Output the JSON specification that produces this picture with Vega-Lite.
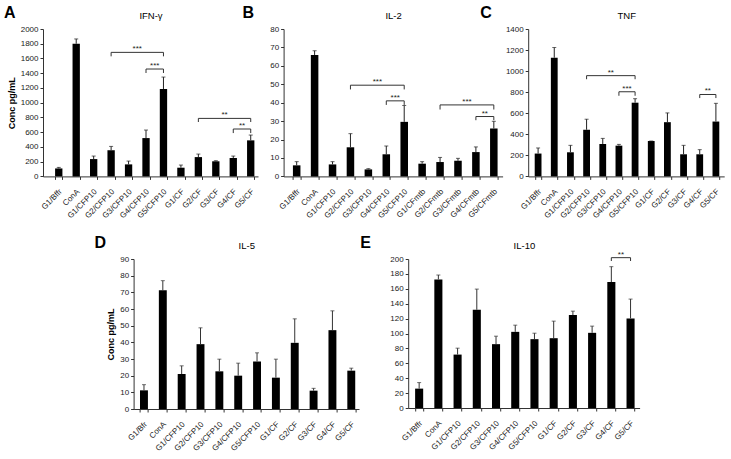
{
  "$schema": "https://vega.github.io/schema/vega-lite/v6.json",
  "padding": {"left": 4, "top": 5, "right": 0, "bottom": 0},
  "datasets": {
    "A": [
      {"group": "G1/Bffr", "conc": 108, "hi": 122},
      {"group": "ConA", "conc": 1800, "hi": 1865},
      {"group": "G1/CFP10", "conc": 235, "hi": 276},
      {"group": "G2/CFP10", "conc": 355, "hi": 407},
      {"group": "G3/CFP10", "conc": 163, "hi": 208},
      {"group": "G4/CFP10", "conc": 520, "hi": 629},
      {"group": "G5/CFP10", "conc": 1186, "hi": 1348},
      {"group": "G1/CF", "conc": 118, "hi": 154},
      {"group": "G2/CF", "conc": 262, "hi": 303},
      {"group": "G3/CF", "conc": 205, "hi": 213},
      {"group": "G4/CF", "conc": 250, "hi": 276},
      {"group": "G5/CF", "conc": 489, "hi": 561}
    ],
    "Asig": [
      {"from": "G2/CFP10", "to": "G5/CFP10", "mid": "G3/CFP10", "y": 1683, "ylow": 1629, "label": "***"},
      {"from": "G4/CFP10", "to": "G5/CFP10", "mid": "G4/CFP10", "y": 1457, "ylow": 1403, "label": "***"},
      {"from": "G2/CF", "to": "G5/CF", "mid": "G3/CF", "y": 787, "ylow": 738, "label": "**"},
      {"from": "G4/CF", "to": "G5/CF", "mid": "G4/CF", "y": 643, "ylow": 588, "label": "**"}
    ],
    "B": [
      {"group": "G1/Bffr", "conc": 6.0, "hi": 8.0},
      {"group": "ConA", "conc": 65.9, "hi": 68.2},
      {"group": "G1/CFP10", "conc": 6.5, "hi": 8.0},
      {"group": "G2/CFP10", "conc": 15.8, "hi": 23.2},
      {"group": "G3/CFP10", "conc": 3.8, "hi": 4.2},
      {"group": "G4/CFP10", "conc": 12.0, "hi": 16.5},
      {"group": "G5/CFP10", "conc": 29.6, "hi": 38.5},
      {"group": "G1/CFmtb", "conc": 6.9, "hi": 8.0},
      {"group": "G2/CFmtb", "conc": 7.8, "hi": 10.3},
      {"group": "G3/CFmtb", "conc": 8.5, "hi": 9.8},
      {"group": "G4/CFmtb", "conc": 13.2, "hi": 16.0},
      {"group": "G5/CFmtb", "conc": 26.0, "hi": 29.9}
    ],
    "Bsig": [
      {"from": "G2/CFP10", "to": "G5/CFP10", "mid": "G3/CFP10", "y": 49.5, "ylow": 47.2, "label": "***"},
      {"from": "G4/CFP10", "to": "G5/CFP10", "mid": "G4/CFP10", "y": 41.0, "ylow": 38.8, "label": "***"},
      {"from": "G2/CFmtb", "to": "G5/CFmtb", "mid": "G3/CFmtb", "y": 38.8, "ylow": 36.3, "label": "***"},
      {"from": "G4/CFmtb", "to": "G5/CFmtb", "mid": "G4/CFmtb", "y": 32.5, "ylow": 30.5, "label": "**"}
    ],
    "C": [
      {"group": "G1/Bffr", "conc": 217, "hi": 270},
      {"group": "ConA", "conc": 1127, "hi": 1224},
      {"group": "G1/CFP10", "conc": 229, "hi": 295},
      {"group": "G2/CFP10", "conc": 443, "hi": 543},
      {"group": "G3/CFP10", "conc": 308, "hi": 361},
      {"group": "G4/CFP10", "conc": 292, "hi": 304},
      {"group": "G5/CFP10", "conc": 700, "hi": 738},
      {"group": "G1/CF", "conc": 336, "hi": 336},
      {"group": "G2/CF", "conc": 515, "hi": 603},
      {"group": "G3/CF", "conc": 210, "hi": 295},
      {"group": "G4/CF", "conc": 210, "hi": 254},
      {"group": "G5/CF", "conc": 521, "hi": 694}
    ],
    "Csig": [
      {"from": "G2/CFP10", "to": "G5/CFP10", "mid": "G3/CFP10", "y": 957, "ylow": 923, "label": "**"},
      {"from": "G4/CFP10", "to": "G5/CFP10", "mid": "G4/CFP10", "y": 804, "ylow": 766, "label": "***"},
      {"from": "G4/CF", "to": "G5/CF", "mid": "G4/CF", "y": 778, "ylow": 744, "label": "**"}
    ],
    "D": [
      {"group": "G1/Bfr", "conc": 11.2, "hi": 14.6},
      {"group": "ConA", "conc": 71.2, "hi": 77.0},
      {"group": "G1/CFP10", "conc": 21.0, "hi": 25.9},
      {"group": "G2/CFP10", "conc": 38.9, "hi": 48.7},
      {"group": "G3/CFP10", "conc": 22.6, "hi": 29.9},
      {"group": "G4/CFP10", "conc": 20.0, "hi": 27.5},
      {"group": "G5/CFP10", "conc": 28.5, "hi": 33.7},
      {"group": "G1/CF", "conc": 18.8, "hi": 29.9},
      {"group": "G2/CF", "conc": 39.7, "hi": 54.1},
      {"group": "G3/CF", "conc": 11.0, "hi": 12.4},
      {"group": "G4/CF", "conc": 47.3, "hi": 58.9},
      {"group": "G5/CF", "conc": 23.0, "hi": 24.5}
    ],
    "E": [
      {"group": "G1/Bffr", "conc": 26.0, "hi": 34.1},
      {"group": "ConA", "conc": 172.6, "hi": 178.5},
      {"group": "G1/CFP10", "conc": 71.7, "hi": 80.3},
      {"group": "G2/CFP10", "conc": 131.8, "hi": 159.6},
      {"group": "G3/CFP10", "conc": 85.7, "hi": 96.4},
      {"group": "G4/CFP10", "conc": 102.2, "hi": 111.2},
      {"group": "G5/CFP10", "conc": 92.4, "hi": 100.4},
      {"group": "G1/CF", "conc": 93.7, "hi": 116.6},
      {"group": "G2/CF", "conc": 124.7, "hi": 130.0},
      {"group": "G3/CF", "conc": 100.9, "hi": 109.9},
      {"group": "G4/CF", "conc": 169.0, "hi": 189.7},
      {"group": "G5/CF", "conc": 120.2, "hi": 146.2}
    ],
    "Esig": [
      {"from": "G4/CF", "to": "G5/CF", "mid": "G4/CF", "y": 201.8, "ylow": 197.3, "label": "**"}
    ]
  },
  "vconcat": [
    {
      "bounds": "flush",
      "spacing": 25.6,
      "hconcat": [
        {
          "width": 215, "height": 147.4,
          "title": {"text": "A", "dx": -39, "dy": 24, "offset": 0, "baseline": "alphabetic"},
          "layer": [
            {"data": {"name": "A"}, "mark": {"type": "bar", "color": "#000"},
             "encoding": {
               "x": {"field": "group", "type": "nominal",
                     "scale": {"domain": ["G1/Bffr","ConA","G1/CFP10","G2/CFP10","G3/CFP10","G4/CFP10","G5/CFP10","G1/CF","G2/CF","G3/CF","G4/CF","G5/CF"], "paddingInner": 0.58, "paddingOuter": 0.45, "align": 0.77},
                     "axis": {"orient": "bottom", "title": null, "labelAngle": -45, "tickBand": "extent", "labelPadding": 8, "labelOffset": -1}},
               "y": {"field": "conc", "type": "quantitative", "title": "Conc pg/mL", "scale": {"domain": [0, 2000], "nice": false}, "axis": {"tickCount": 10, "format": "d"}}}},
            {"data": {"name": "A"}, "mark": {"type": "rule", "color": "#222"},
             "encoding": {
               "x": {"field": "group", "type": "nominal", "axis": {"orient": "top", "title": "IFN-γ", "labels": false, "ticks": false, "domain": false, "titleFontWeight": "normal", "titleFontSize": 9.5, "titlePadding": 9}},
               "y": {"field": "conc", "type": "quantitative", "title": "Conc pg/mL"}, "y2": {"field": "hi"}}},
            {"data": {"name": "A"}, "mark": {"type": "tick", "color": "#222", "size": 4, "thickness": 1, "orient": "horizontal"},
             "encoding": {"x": {"field": "group", "type": "nominal", "axis": null}, "y": {"field": "hi", "type": "quantitative", "title": "Conc pg/mL"}}},
            {"data": {"name": "Asig"}, "mark": {"type": "rule", "color": "#333"},
             "encoding": {"x": {"field": "from", "type": "nominal", "bandPosition": 0.5, "axis": null}, "x2": {"field": "to", "bandPosition": 0.5}, "y": {"field": "y", "type": "quantitative", "title": "Conc pg/mL"}}},
            {"data": {"name": "Asig"}, "mark": {"type": "rule", "color": "#333"},
             "encoding": {"x": {"field": "from", "type": "nominal", "axis": null}, "y": {"field": "y", "type": "quantitative", "title": "Conc pg/mL"}, "y2": {"field": "ylow"}}},
            {"data": {"name": "Asig"}, "mark": {"type": "rule", "color": "#333"},
             "encoding": {"x": {"field": "to", "type": "nominal", "axis": null}, "y": {"field": "y", "type": "quantitative", "title": "Conc pg/mL"}, "y2": {"field": "ylow"}}},
            {"data": {"name": "Asig"}, "mark": {"type": "text", "baseline": "bottom", "dy": 1, "fontSize": 8, "color": "#222"},
             "encoding": {"x": {"field": "mid", "type": "nominal", "bandPosition": 1.6905, "axis": null}, "y": {"field": "y", "type": "quantitative", "title": "Conc pg/mL"}, "text": {"field": "label"}}}
          ],
          "resolve": {"axis": {"x": "independent"}}
        },
        {
          "width": 219, "height": 147.4,
          "title": {"text": "B", "dx": -41, "dy": 24, "offset": 0, "baseline": "alphabetic"},
          "layer": [
            {"data": {"name": "B"}, "mark": {"type": "bar", "color": "#000"},
             "encoding": {
               "x": {"field": "group", "type": "nominal",
                     "scale": {"domain": ["G1/Bffr","ConA","G1/CFP10","G2/CFP10","G3/CFP10","G4/CFP10","G5/CFP10","G1/CFmtb","G2/CFmtb","G3/CFmtb","G4/CFmtb","G5/CFmtb"], "paddingInner": 0.58, "paddingOuter": 0.4, "align": 0.65},
                     "axis": {"orient": "bottom", "title": null, "labelAngle": -45, "tickBand": "extent", "labelPadding": 8, "labelOffset": -1}},
               "y": {"field": "conc", "type": "quantitative", "title": null, "scale": {"domain": [0, 80], "nice": false}, "axis": {"tickCount": 8, "format": "d"}}}},
            {"data": {"name": "B"}, "mark": {"type": "rule", "color": "#222"},
             "encoding": {
               "x": {"field": "group", "type": "nominal", "axis": {"orient": "top", "title": "IL-2", "labels": false, "ticks": false, "domain": false, "titleFontWeight": "normal", "titleFontSize": 9.5, "titlePadding": 9}},
               "y": {"field": "conc", "type": "quantitative", "title": null}, "y2": {"field": "hi"}}},
            {"data": {"name": "B"}, "mark": {"type": "tick", "color": "#222", "size": 4, "thickness": 1, "orient": "horizontal"},
             "encoding": {"x": {"field": "group", "type": "nominal", "axis": null}, "y": {"field": "hi", "type": "quantitative", "title": null}}},
            {"data": {"name": "Bsig"}, "mark": {"type": "rule", "color": "#333"},
             "encoding": {"x": {"field": "from", "type": "nominal", "bandPosition": 0.5, "axis": null}, "x2": {"field": "to", "bandPosition": 0.5}, "y": {"field": "y", "type": "quantitative", "title": null}}},
            {"data": {"name": "Bsig"}, "mark": {"type": "rule", "color": "#333"},
             "encoding": {"x": {"field": "from", "type": "nominal", "axis": null}, "y": {"field": "y", "type": "quantitative", "title": null}, "y2": {"field": "ylow"}}},
            {"data": {"name": "Bsig"}, "mark": {"type": "rule", "color": "#333"},
             "encoding": {"x": {"field": "to", "type": "nominal", "axis": null}, "y": {"field": "y", "type": "quantitative", "title": null}, "y2": {"field": "ylow"}}},
            {"data": {"name": "Bsig"}, "mark": {"type": "text", "baseline": "bottom", "dy": 1, "fontSize": 8, "color": "#222"},
             "encoding": {"x": {"field": "mid", "type": "nominal", "bandPosition": 1.6905, "axis": null}, "y": {"field": "y", "type": "quantitative", "title": null}, "text": {"field": "label"}}}
          ],
          "resolve": {"axis": {"x": "independent"}}
        },
        {
          "width": 196, "height": 147.4,
          "title": {"text": "C", "dx": -48, "dy": 24, "offset": 0, "baseline": "alphabetic"},
          "layer": [
            {"data": {"name": "C"}, "mark": {"type": "bar", "color": "#000"},
             "encoding": {
               "x": {"field": "group", "type": "nominal",
                     "scale": {"domain": ["G1/Bffr","ConA","G1/CFP10","G2/CFP10","G3/CFP10","G4/CFP10","G5/CFP10","G1/CF","G2/CF","G3/CF","G4/CF","G5/CF"], "paddingInner": 0.58, "paddingOuter": 0.353, "align": 0.57},
                     "axis": {"orient": "bottom", "title": null, "labelAngle": -45, "tickBand": "extent", "labelPadding": 8, "labelOffset": -1}},
               "y": {"field": "conc", "type": "quantitative", "title": null, "scale": {"domain": [0, 1400], "nice": false}, "axis": {"tickCount": 7, "format": "d"}}}},
            {"data": {"name": "C"}, "mark": {"type": "rule", "color": "#222"},
             "encoding": {
               "x": {"field": "group", "type": "nominal", "axis": {"orient": "top", "title": "TNF", "labels": false, "ticks": false, "domain": false, "titleFontWeight": "normal", "titleFontSize": 9.5, "titlePadding": 9}},
               "y": {"field": "conc", "type": "quantitative", "title": null}, "y2": {"field": "hi"}}},
            {"data": {"name": "C"}, "mark": {"type": "tick", "color": "#222", "size": 4, "thickness": 1, "orient": "horizontal"},
             "encoding": {"x": {"field": "group", "type": "nominal", "axis": null}, "y": {"field": "hi", "type": "quantitative", "title": null}}},
            {"data": {"name": "Csig"}, "mark": {"type": "rule", "color": "#333"},
             "encoding": {"x": {"field": "from", "type": "nominal", "bandPosition": 0.5, "axis": null}, "x2": {"field": "to", "bandPosition": 0.5}, "y": {"field": "y", "type": "quantitative", "title": null}}},
            {"data": {"name": "Csig"}, "mark": {"type": "rule", "color": "#333"},
             "encoding": {"x": {"field": "from", "type": "nominal", "axis": null}, "y": {"field": "y", "type": "quantitative", "title": null}, "y2": {"field": "ylow"}}},
            {"data": {"name": "Csig"}, "mark": {"type": "rule", "color": "#333"},
             "encoding": {"x": {"field": "to", "type": "nominal", "axis": null}, "y": {"field": "y", "type": "quantitative", "title": null}, "y2": {"field": "ylow"}}},
            {"data": {"name": "Csig"}, "mark": {"type": "text", "baseline": "bottom", "dy": 1, "fontSize": 8, "color": "#222"},
             "encoding": {"x": {"field": "mid", "type": "nominal", "bandPosition": 1.6905, "axis": null}, "y": {"field": "y", "type": "quantitative", "title": null}, "text": {"field": "label"}}}
          ],
          "resolve": {"axis": {"x": "independent"}}
        }
      ]
    },
    {
      "bounds": "flush",
      "spacing": 48.6,
      "hconcat": [
        {"width": 42, "height": 150, "data": {"values": []}, "mark": "point", "encoding": {}},
        {
          "width": 225.4, "height": 150,
          "title": {"text": "D", "dx": -39, "dy": 24, "offset": 0, "baseline": "alphabetic"},
          "layer": [
            {"data": {"name": "D"}, "mark": {"type": "bar", "color": "#000"},
             "encoding": {
               "x": {"field": "group", "type": "nominal",
                     "scale": {"domain": ["G1/Bfr","ConA","G1/CFP10","G2/CFP10","G3/CFP10","G4/CFP10","G5/CFP10","G1/CF","G2/CF","G3/CF","G4/CF","G5/CF"], "paddingInner": 0.58, "paddingOuter": 0.27, "align": 0.63},
                     "axis": {"orient": "bottom", "title": null, "labelAngle": -45, "tickBand": "extent", "labelPadding": 8, "labelOffset": -1}},
               "y": {"field": "conc", "type": "quantitative", "title": "Conc pg/mL", "scale": {"domain": [0, 90], "nice": false}, "axis": {"tickCount": 9, "format": "d"}}}},
            {"data": {"name": "D"}, "mark": {"type": "rule", "color": "#333"},
             "encoding": {
               "x": {"field": "group", "type": "nominal", "axis": {"orient": "top", "title": "IL-5", "labels": false, "ticks": false, "domain": false, "titleFontWeight": "normal", "titleFontSize": 9.5, "titlePadding": 9}},
               "y": {"field": "conc", "type": "quantitative", "title": "Conc pg/mL"}, "y2": {"field": "hi"}}},
            {"data": {"name": "D"}, "mark": {"type": "tick", "color": "#333", "size": 4, "thickness": 1, "orient": "horizontal"},
             "encoding": {"x": {"field": "group", "type": "nominal", "axis": null}, "y": {"field": "hi", "type": "quantitative", "title": "Conc pg/mL"}}}
          ],
          "resolve": {"axis": {"x": "independent"}}
        },
        {
          "width": 231.4, "height": 149,
          "title": {"text": "E", "dx": -48, "dy": 24, "offset": 0, "baseline": "alphabetic"},
          "layer": [
            {"data": {"name": "E"}, "mark": {"type": "bar", "color": "#000"},
             "encoding": {
               "x": {"field": "group", "type": "nominal",
                     "scale": {"domain": ["G1/Bffr","ConA","G1/CFP10","G2/CFP10","G3/CFP10","G4/CFP10","G5/CFP10","G1/CF","G2/CF","G3/CF","G4/CF","G5/CF"], "paddingInner": 0.58, "paddingOuter": 0.31, "align": 0.58},
                     "axis": {"orient": "bottom", "title": null, "labelAngle": -45, "tickBand": "extent", "labelPadding": 8, "labelOffset": -1}},
               "y": {"field": "conc", "type": "quantitative", "title": null, "scale": {"domain": [0, 200], "nice": false}, "axis": {"tickCount": 10, "format": "d"}}}},
            {"data": {"name": "E"}, "mark": {"type": "rule", "color": "#333"},
             "encoding": {
               "x": {"field": "group", "type": "nominal", "axis": {"orient": "top", "title": "IL-10", "labels": false, "ticks": false, "domain": false, "titleFontWeight": "normal", "titleFontSize": 9.5, "titlePadding": 9}},
               "y": {"field": "conc", "type": "quantitative", "title": null}, "y2": {"field": "hi"}}},
            {"data": {"name": "E"}, "mark": {"type": "tick", "color": "#333", "size": 4, "thickness": 1, "orient": "horizontal"},
             "encoding": {"x": {"field": "group", "type": "nominal", "axis": null}, "y": {"field": "hi", "type": "quantitative", "title": null}}},
            {"data": {"name": "Esig"}, "mark": {"type": "rule", "color": "#333"},
             "encoding": {"x": {"field": "from", "type": "nominal", "bandPosition": 0.5, "axis": null}, "x2": {"field": "to", "bandPosition": 0.5}, "y": {"field": "y", "type": "quantitative", "title": null}}},
            {"data": {"name": "Esig"}, "mark": {"type": "rule", "color": "#333"},
             "encoding": {"x": {"field": "from", "type": "nominal", "axis": null}, "y": {"field": "y", "type": "quantitative", "title": null}, "y2": {"field": "ylow"}}},
            {"data": {"name": "Esig"}, "mark": {"type": "rule", "color": "#333"},
             "encoding": {"x": {"field": "to", "type": "nominal", "axis": null}, "y": {"field": "y", "type": "quantitative", "title": null}, "y2": {"field": "ylow"}}},
            {"data": {"name": "Esig"}, "mark": {"type": "text", "baseline": "bottom", "dy": 1, "fontSize": 8, "color": "#222"},
             "encoding": {"x": {"field": "mid", "type": "nominal", "bandPosition": 1.6905, "axis": null}, "y": {"field": "y", "type": "quantitative", "title": null}, "text": {"field": "label"}}}
          ],
          "resolve": {"axis": {"x": "independent"}}
        }
      ]
    }
  ],
  "spacing": 15,
  "config": {
    "view": {"stroke": null},
    "font": "Liberation Sans",
    "axis": {"domainColor": "#333", "tickColor": "#333", "labelColor": "#1a1a1a", "labelFont": "Liberation Sans", "labelFontSize": 8, "tickSize": 3, "labelPadding": 2, "grid": false, "titleFont": "Liberation Sans", "titleFontSize": 9, "titleFontWeight": "bold", "titleColor": "#000"},
    "title": {"font": "Liberation Sans", "fontSize": 16, "fontWeight": "bold", "anchor": "start", "frame": "group", "color": "#000"}
  }
}
